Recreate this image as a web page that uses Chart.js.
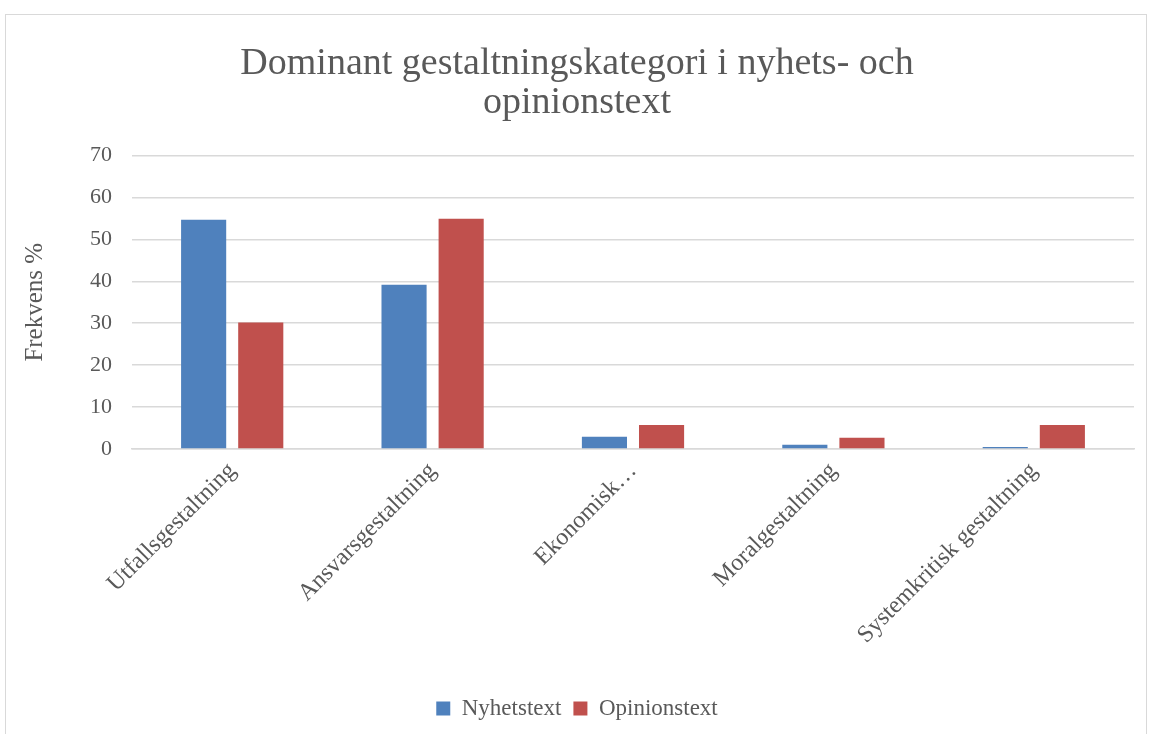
<!DOCTYPE html>
<html><head><meta charset="utf-8">
<script src="https://cdn.jsdelivr.net/npm/chart.js@4"></script>
<style>
html,body{margin:0;padding:0;background:#fff;}
#wrap{position:absolute;left:0;top:0;width:1151px;height:734px;}
#frame{position:absolute;left:5px;top:14px;width:1142px;height:730px;border:1.5px solid #d9d9d9;box-sizing:border-box;}
canvas{position:absolute;left:0;top:0;}
</style></head>
<body>
<div id="wrap"><div id="frame"></div><canvas id="c" width="1151" height="734"></canvas></div>
<script>
const categories = ["Utfallsgestaltning","Ansvarsgestaltning","Ekonomisk…","Moralgestaltning","Systemkritisk gestaltning"];
const nyhetstext = [54.7, 39.2, 2.9, 1.0, 0.5];
const opinionstext = [30.2, 54.9, 5.7, 2.7, 5.7];
const yTicks = [0,10,20,30,40,50,60,70];
const FONT = "'Liberation Serif', 'DejaVu Serif', serif";
const TXT = '#595959';
new Chart(document.getElementById('c'), {
  type: 'bar',
  data: {
    labels: categories,
    datasets: [
      {label: 'Nyhetstext', data: nyhetstext, backgroundColor: '#4F81BD', borderWidth: 0, barPercentage: 0.79, categoryPercentage: 0.57},
      {label: 'Opinionstext', data: opinionstext, backgroundColor: '#C0504D', borderWidth: 0, barPercentage: 0.79, categoryPercentage: 0.57}
    ]
  },
  options: {
    responsive: false,
    animation: false,
    layout: {padding: {left: 20, right: 17, top: 45, bottom: 4}},
    plugins: {
      title: {display: true, text: ['Dominant gestaltningskategori i nyhets- och','opinionstext'], color: TXT,
        font: {family: FONT, size: 38, weight: 'normal', lineHeight: 1.02}, padding: {top: 0, bottom: 33}},
      legend: {position: 'bottom', labels: {color: TXT, font: {family: FONT, size: 23}, boxWidth: 14, boxHeight: 14, padding: 12}},
      tooltip: {enabled: false}
    },
    scales: {
      x: {
        grid: {display: false, drawTicks: false},
        border: {display: true, color: '#d9d9d9', width: 1.5},
        ticks: {color: TXT, font: {family: FONT, size: 24}, maxRotation: 45, minRotation: 45, autoSkip: false, padding: 8},
        afterFit: s => { s.height = 236; }
      },
      y: {
        min: 0, max: 70,
        afterBuildTicks: s => { s.ticks = yTicks.map(v => ({value: v})); },
        grid: {color: '#d9d9d9', lineWidth: 1.5, drawTicks: false},
        border: {display: false},
        ticks: {color: TXT, font: {family: FONT, size: 22}, padding: 20},
        title: {display: true, text: 'Frekvens %', color: TXT, font: {family: FONT, size: 25}, padding: 0},
        afterFit: s => { s.width = 112; }
      }
    }
  }
});
</script>
</body></html>
